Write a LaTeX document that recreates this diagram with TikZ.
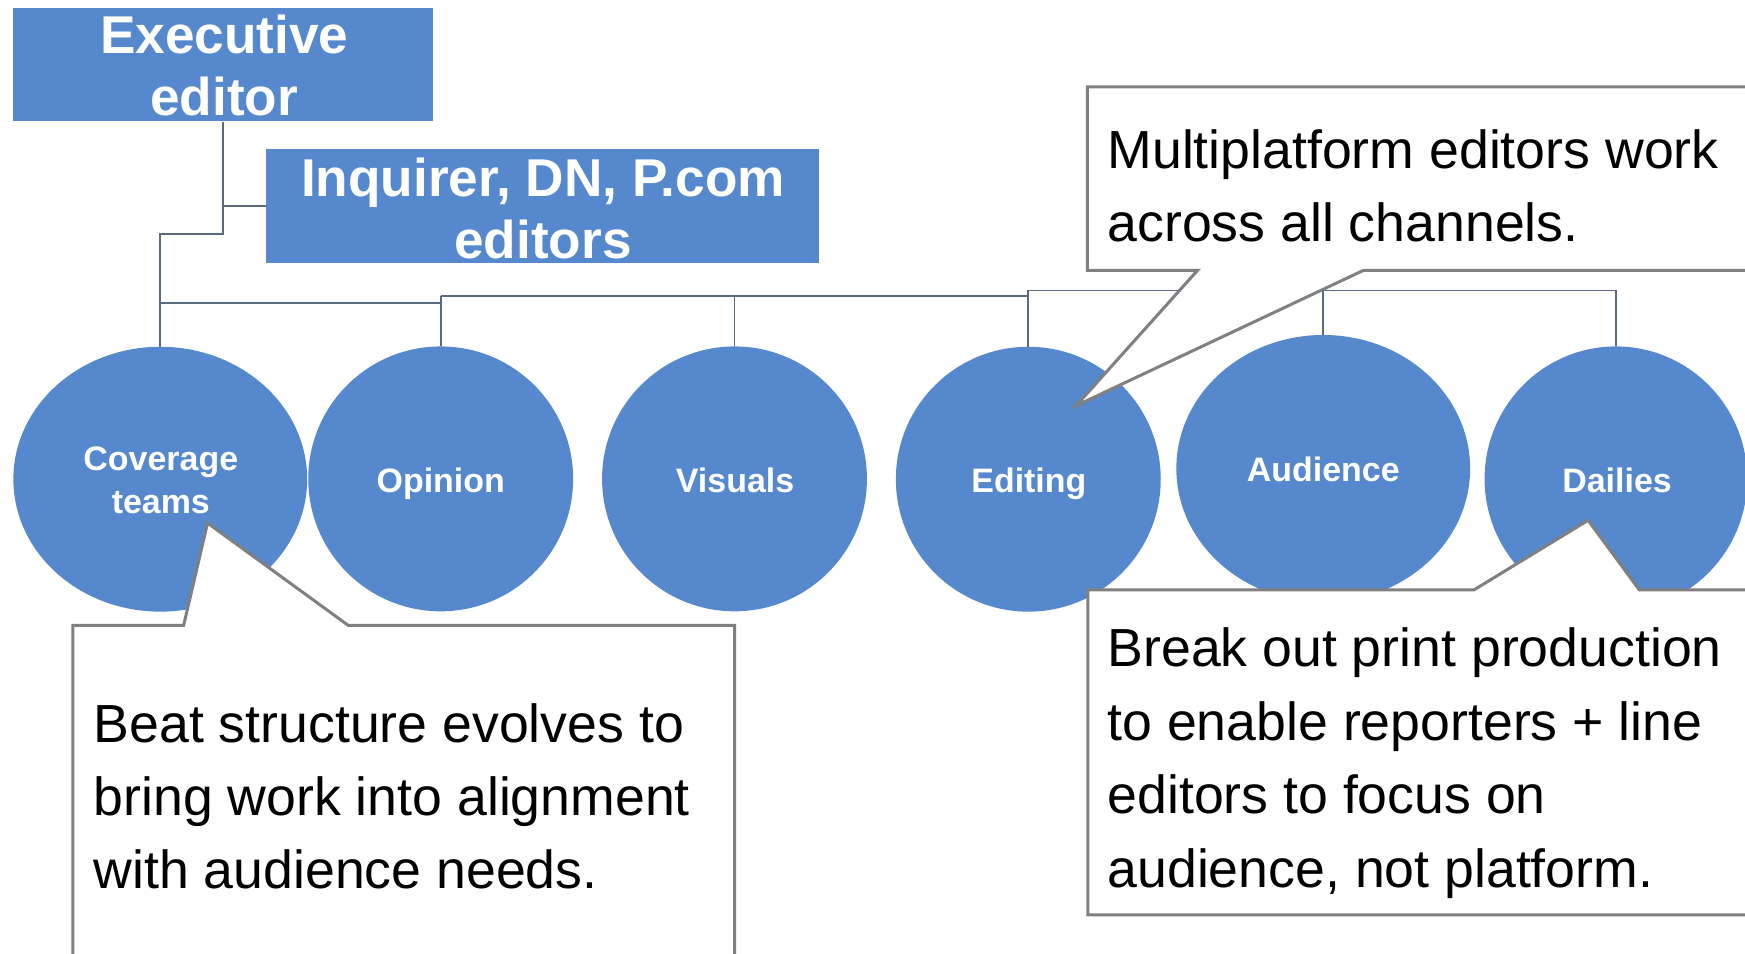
\documentclass[tikz,border=0pt]{standalone}
\usepackage{fontspec}
\setmainfont{Liberation Sans}
\usetikzlibrary{shapes.geometric,calc}
\definecolor{boxblue}{RGB}{85,136,204}
\definecolor{connc}{RGB}{90,106,128}
\definecolor{callgray}{RGB}{128,128,128}
\begin{document}
\begin{tikzpicture}[x=1pt,y=-1pt,
  bluebox/.style={rectangle, fill=boxblue, draw=none, inner sep=0},
  circ/.style={ellipse, fill=boxblue, draw=none, inner sep=0},
  conn/.style={draw=connc, line width=1.5pt},
  callout/.style={fill=white, draw=callgray, line width=2.7pt, line join=miter},
  boxtxt/.style={inner sep=0, anchor=north, align=center, text=white,
    font=\fontsize{47.8}{56}\selectfont\bfseries},
  circtxt/.style={inner sep=0, anchor=north, align=center, text=white,
    font=\fontsize{30.5}{38.6}\selectfont\bfseries},
  calltxt/.style={inner sep=0, anchor=north west, align=left, text=black,
    font=\fontsize{48.2}{65.5}\selectfont}]
\useasboundingbox (0,0) rectangle (1568,857.2);
\fill[white] (0,0) rectangle (1568,857.2);

% boxes
\node[bluebox, minimum width=377pt, minimum height=102pt] (exec) at (200.5,58) {};
\node[bluebox, minimum width=497pt, minimum height=102pt] (inq) at (487.5,185) {};

% circles
\node[circ, minimum width=264pt, minimum height=238pt] (cov) at (144,430.6) {};
\node[circ, minimum width=238pt, minimum height=238pt] (opi) at (396,430.3) {};
\node[circ, minimum width=238pt, minimum height=238pt] (vis) at (660,430.3) {};
\node[circ, minimum width=238pt, minimum height=238pt] (edi) at (924,430.6) {};
\node[circ, minimum width=264pt, minimum height=240pt] (aud) at (1189,421) {};
\node[circ, minimum width=236pt, minimum height=238pt] (dai) at (1452,430.3) {};

% connectors
\coordinate (j1) at (200.5,210);
\coordinate (busA) at (144,272);
\coordinate (busB) at (396,266);
\coordinate (busC) at (924,266);
\coordinate (busD) at (924,261);
\coordinate (busE) at (1452,261);
\draw[conn] (exec.south) |- (inq.west);
\draw[conn] (exec.south) -- (j1) -| (cov.north);
\draw[conn] (busA) -| (opi.north);
\draw[conn] (busB) -- (opi.north);
\draw[conn] (busB) -- (busC) -- (busD) -- (busE) -- (dai.north);
\draw[conn] (vis.north) -- (vis.north |- busB);
\draw[conn] (edi.north) -- (busD);
\draw[conn] (aud.north) -- (aud.north |- busD);

% box and circle labels
\node[boxtxt] (exect) at (201.5,8.8) {\strut Executive\\editor};
\node[boxtxt] (inqt) at (488,136.8) {\strut Inquirer, DN, P.com\\editors};
\node[circtxt] (covt) at (144.5,395.6) {\strut Coverage\\teams};
\node[circtxt] (opit) at (396,415.5) {\strut Opinion};
\node[circtxt] (vist) at (660.5,415.5) {\strut Visuals};
\node[circtxt] (edit) at (924.5,415.5) {\strut Editing};
\node[circtxt] (audt) at (1189,405.4) {\strut Audience};
\node[circtxt] (dait) at (1453,415.5) {\strut Dailies};

% callouts
\path[callout] (977,78) -- (1585,78) -- (1585,243) -- (1225,243) -- (967,364.5)
  -- (1076,243) -- (977,243) -- cycle;
\path[callout] (65.5,562) -- (165,562) -- (186.5,470) -- (313,562) -- (660,562)
  -- (660,875) -- (65.5,875) -- cycle;
\path[callout] (977.5,530) -- (1324.5,530) -- (1427,467.5) -- (1473,530) -- (1585,530)
  -- (1585,822) -- (977.5,822) -- cycle;

\node[calltxt] (multi) at (995,105.6) {\strut Multiplatform editors work\\across all channels.};
\node[calltxt, font=\fontsize{48.2}{65.7}\selectfont] (beat) at (84,621) {\strut Beat structure evolves to\\bring work into alignment\\with audience needs.};
\node[calltxt, font=\fontsize{48.2}{66}\selectfont] (brk) at (995,552.8) {\strut Break out print production\\to enable reporters + line\\editors to focus on\\audience, not platform.};
\end{tikzpicture}
\end{document}
